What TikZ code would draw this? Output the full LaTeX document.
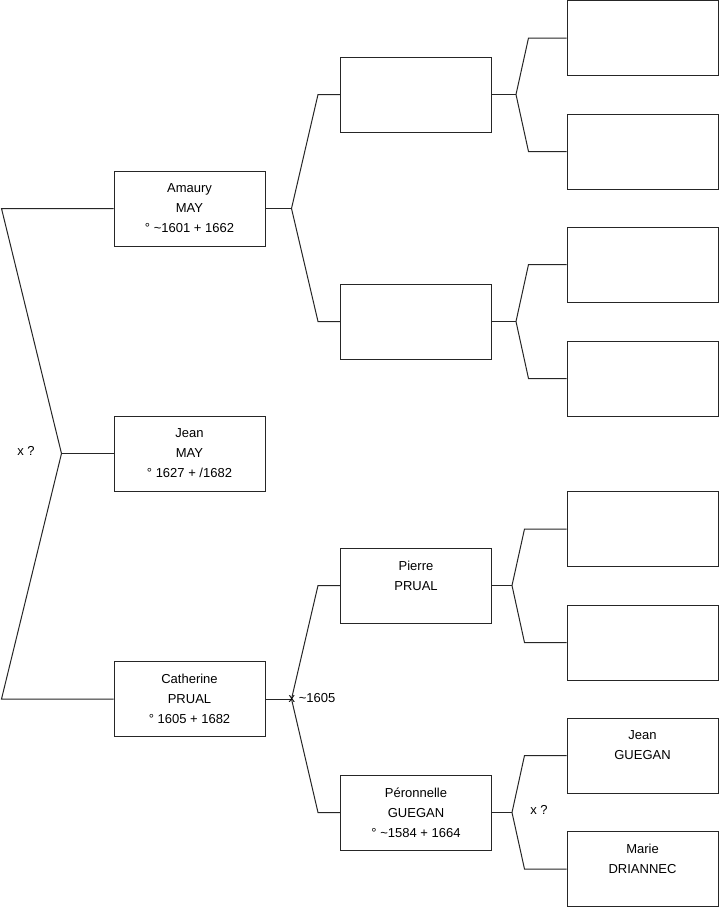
\documentclass[tikz,border=0pt]{standalone}
\usepackage{fontspec}
\setmainfont{Liberation Sans}
\usetikzlibrary{positioning,calc}

\begin{document}
\begin{tikzpicture}[x=1pt, y=-1pt,
  person/.style={rectangle, draw=black!85, line width=1pt,
    minimum width=151pt, minimum height=75pt, inner sep=0pt,
    align=center, font=\fontsize{13}{20}\selectfont},
  link/.style={draw=black!85, line width=1pt},
  lbl/.style={font=\fontsize{13}{15}\selectfont, inner sep=0pt}
]
\useasboundingbox[fill=white] (0,0) rectangle (719,908);

% Generation 1: subject and parents
\node[person] (amaury)    at (189.5, 208.5) {Amaury\\MAY\\° \textasciitilde1601 + 1662};
\node[person] (jean)      at (189.5, 453.5) {Jean\\MAY\\° 1627 + /1682};
\node[person] (catherine) at (189.5, 699.0) {Catherine\\PRUAL\\° 1605 + 1682};

% Generation 2: grandparents
\node[person] (mayfather) at (416, 94.5)  {};
\node[person] (maymother) at (416, 321.5) {};
\node[person] (pierre)     at (416, 585.5) {Pierre\\PRUAL\\\mbox{}};
\node[person] (peronnelle) at (416, 812.5) {Péronnelle\\GUEGAN\\° \textasciitilde1584 + 1664};

% Generation 3: great-grandparents
\node[person] (ggpa) at (642.5, 38.0)  {};
\node[person] (ggpb) at (642.5, 151.5) {};
\node[person] (ggpc) at (642.5, 264.5) {};
\node[person] (ggpd) at (642.5, 378.5) {};
\node[person] (ggpe) at (642.5, 529.0) {};
\node[person] (ggpf) at (642.5, 642.5) {};
\node[person] (jeanguegan) at (642.5, 755.5) {Jean\\GUEGAN\\\mbox{}};
\node[person] (marie)      at (642.5, 869.0) {Marie\\DRIANNEC\\\mbox{}};

% Forks
\coordinate (rootfork) at ($(jean.west)+(-52,0)$);
\draw[link] (amaury.west) -- ($(amaury.west)+(-112,0)$) -- (rootfork)
  -- ($(catherine.west)+(-112,0)$) -- (catherine.west);
\draw[link] (jean.west) -- (rootfork);

\coordinate (amfork) at ($(amaury.east)+(26,0)$);
\draw[link] (mayfather.west) -- ($(mayfather.west)+(-22,0)$) -- (amfork)
  -- ($(maymother.west)+(-22,0)$) -- (maymother.west);
\draw[link] (amaury.east) -- (amfork);

\coordinate (catfork) at ($(catherine.east)+(26,0)$);
\draw[link] (pierre.west) -- ($(pierre.west)+(-22,0)$) -- (catfork)
  -- ($(peronnelle.west)+(-22,0)$) -- (peronnelle.west);
\draw[link] (catherine.east) -- (catfork);

\coordinate (mffork) at ($(mayfather.east)+(24,0)$);
\draw[link] (ggpa.west) -- ($(ggpa.west)+(-38,0)$) -- (mffork)
  -- ($(ggpb.west)+(-38,0)$) -- (ggpb.west);
\draw[link] (mayfather.east) -- (mffork);

\coordinate (mmfork) at ($(maymother.east)+(24,0)$);
\draw[link] (ggpc.west) -- ($(ggpc.west)+(-38,0)$) -- (mmfork)
  -- ($(ggpd.west)+(-38,0)$) -- (ggpd.west);
\draw[link] (maymother.east) -- (mmfork);

\coordinate (pifork) at ($(pierre.east)+(20,0)$);
\draw[link] (ggpe.west) -- ($(ggpe.west)+(-42,0)$) -- (pifork)
  -- ($(ggpf.west)+(-42,0)$) -- (ggpf.west);
\draw[link] (pierre.east) -- (pifork);

\coordinate (pefork) at ($(peronnelle.east)+(20,0)$);
\draw[link] (jeanguegan.west) -- ($(jeanguegan.west)+(-42,0)$) -- (pefork)
  -- ($(marie.west)+(-42,0)$) -- (marie.west);
\draw[link] (peronnelle.east) -- (pefork);

% Marriage labels
\node[lbl] (marroot) at (26, 451) {x ?};
\node[lbl, anchor=west] (marcat) at ($(catfork)+(-3,-1)$) {x \textasciitilde1605};
\node[lbl] (marper) at (539, 810) {x ?};

\end{tikzpicture}
\end{document}
